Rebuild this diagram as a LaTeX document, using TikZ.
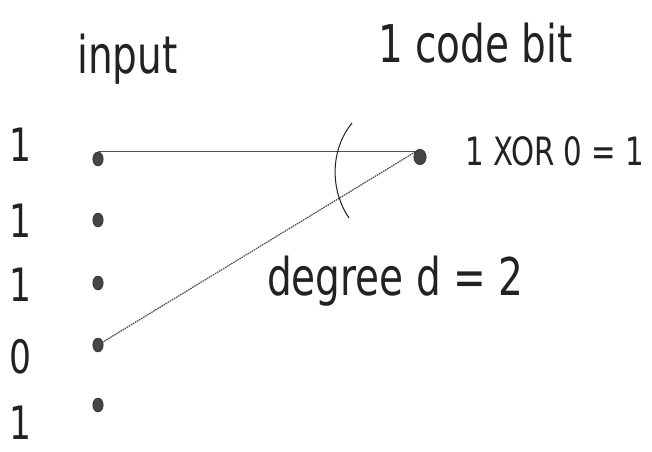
\documentclass[tikz,border=0pt]{standalone}
\usepackage{fontspec}
\setmainfont[FakeStretch=0.75]{DejaVu Sans}
\usetikzlibrary{shapes.geometric,backgrounds}
\definecolor{ink}{HTML}{222222}
\definecolor{dotfill}{HTML}{454545}
\definecolor{linecol}{HTML}{505050}
\begin{document}
\begin{tikzpicture}[x=1pt,y=-1pt,
  bitdot/.style={ellipse,fill=dotfill,draw=ink,line width=0.4pt,inner sep=0pt,minimum width=10.5pt,minimum height=14pt},
  outdot/.style={bitdot,minimum width=12.5pt,minimum height=15.5pt},
  bigtxt/.style={text=ink,inner sep=0pt,font=\fontsize{52}{60}\selectfont},
  smalltxt/.style={text=ink,inner sep=0pt,font=\fontsize{39}{45}\selectfont},
  bittxt/.style={text=ink,inner sep=0pt,font=\fontsize{46}{54}\selectfont},
  conn/.style={draw=linecol,line width=1.2pt},
  dotconn/.style={draw=linecol,line width=1.2pt,dash pattern=on 1.6pt off 0.8pt},
  degarc/.style={draw=ink,line width=1pt}]
% titles and labels
\node[bigtxt,anchor=base west] (tin) at (77,73) {input};
\node[bigtxt,anchor=base west] (tcode) at (378,62) {1 code bit};
\node[bigtxt,anchor=base west] (tdeg) at (267,295) {degree d = 2};
\node[smalltxt,anchor=base west] (txor) at (465,165) {1 XOR 0 = 1};
% input bits
\node[bittxt] (b1) at (20,145) {1};
\node[bittxt] (b2) at (20,221) {1};
\node[bittxt] (b3) at (20,285) {1};
\node[bittxt] (b4) at (20,357) {0};
\node[bittxt] (b5) at (20,423) {1};
% dots
\node[bitdot] (d1) at (98,159) {};
\node[bitdot] (d2) at (98,220) {};
\node[bitdot] (d3) at (98,283) {};
\node[bitdot] (d4) at (98,345) {};
\node[bitdot] (d5) at (98,405) {};
\node[outdot] (r) at (420,157) {};
% arc marking the degree
\draw[degarc] (352,123) .. controls (330,150) and (330,190) .. (349,218);
% connectors, below the dots
\begin{scope}[on background layer]
\fill[white] (0,0) rectangle (652,451);
\draw[conn] (d1.north) -- (d1.north -| r.center);
\draw[dotconn] (d4.center) -- (r.north);
\end{scope}
\useasboundingbox (0,0) rectangle (652,451);
\end{tikzpicture}
\end{document}
